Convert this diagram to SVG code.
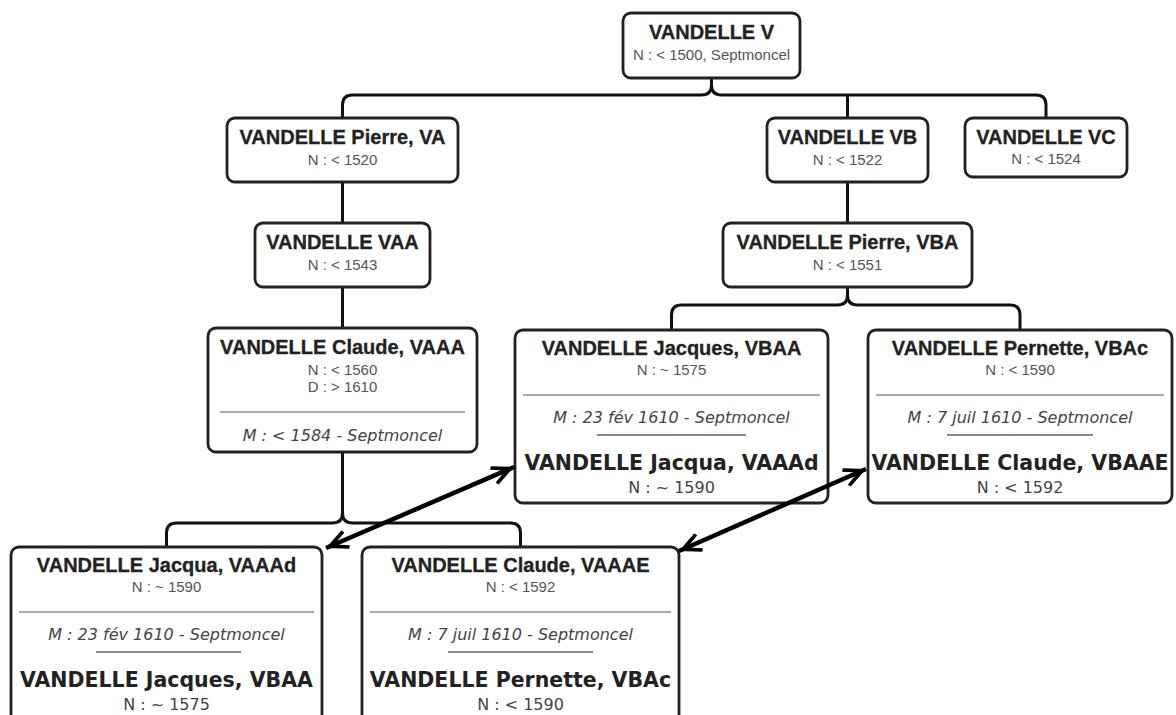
<svg xmlns="http://www.w3.org/2000/svg" width="1176" height="715" viewBox="0 0 1176 715">
<style>
.box{fill:#fff;stroke:#222;stroke-width:2.8}
.t{font-family:"Liberation Sans",Arial,sans-serif;font-weight:bold;font-size:20px;fill:#222;text-anchor:middle;stroke:#222;stroke-width:0.3}
.s{font-family:"Liberation Sans",Arial,sans-serif;font-size:15px;fill:#555;text-anchor:middle}
.m{font-family:"DejaVu Sans",Verdana,sans-serif;font-style:italic;font-size:16px;fill:#444;text-anchor:middle}
.b{font-family:"DejaVu Sans",Verdana,sans-serif;font-weight:bold;font-size:20.5px;fill:#222;text-anchor:middle}
.n{font-family:"DejaVu Sans",Verdana,sans-serif;font-size:16px;fill:#444;text-anchor:middle}
.sep{stroke:#aaa;stroke-width:2}
.sep2{stroke:#888;stroke-width:2}
.conn{fill:none;stroke:#111;stroke-width:3}
.arr{fill:none;stroke:#000;stroke-width:4.5;marker-start:url(#ah);marker-end:url(#ah)}
</style>
<defs>
<marker id="ah" markerUnits="userSpaceOnUse" markerWidth="26" markerHeight="22" refX="23" refY="11" orient="auto-start-reverse">
<path d="M23,11 L2,1 L0,4 L14,11 L0,18 L2,21 Z" fill="#000"/>
</marker>
</defs>
<g id="connectors">
<path class="conn" d="M342.5,118 V105 Q342.5,95 352.5,95 H701.5 Q711.5,95 711.5,85 V78"/>
<path class="conn" d="M711.5,85 Q711.5,95 721.5,95 H1036 Q1046,95 1046,105 V118"/>
<path class="conn" d="M847.5,95 V118"/>
<path class="conn" d="M342.5,182 V223"/>
<path class="conn" d="M342.5,287 V328"/>
<path class="conn" d="M847.5,182 V223"/>
<path class="conn" d="M847.5,287 V295 Q847.5,305 837.5,305 H681.5 Q671.5,305 671.5,315 V330"/>
<path class="conn" d="M847.5,295 Q847.5,305 857.5,305 H1010 Q1020,305 1020,315 V330"/>
<path class="conn" d="M342.5,452 V513 Q342.5,523 332.5,523 H176.5 Q166.5,523 166.5,533 V547"/>
<path class="conn" d="M342.5,513 Q342.5,523 352.5,523 H510.5 Q520.5,523 520.5,533 V547"/>
</g>
<g id="V">
<rect class="box" x="623" y="13" width="177" height="65" rx="8"/>
<text class="t" x="711.5" y="39">VANDELLE V</text>
<text class="s" x="711.5" y="60">N : &lt; 1500, Septmoncel</text>
</g>
<g id="VA">
<rect class="box" x="227" y="118" width="231" height="64" rx="8"/>
<text class="t" x="342.5" y="144">VANDELLE Pierre, VA</text>
<text class="s" x="342.5" y="165">N : &lt; 1520</text>
</g>
<g id="VB">
<rect class="box" x="767" y="118" width="161" height="64" rx="8"/>
<text class="t" x="847.5" y="144">VANDELLE VB</text>
<text class="s" x="847.5" y="165">N : &lt; 1522</text>
</g>
<g id="VC">
<rect class="box" x="965" y="118" width="162" height="59" rx="8"/>
<text class="t" x="1046" y="144">VANDELLE VC</text>
<text class="s" x="1046" y="164">N : &lt; 1524</text>
</g>
<g id="VAA">
<rect class="box" x="255" y="223" width="175" height="64" rx="8"/>
<text class="t" x="342.5" y="249">VANDELLE VAA</text>
<text class="s" x="342.5" y="270">N : &lt; 1543</text>
</g>
<g id="VBA">
<rect class="box" x="723" y="223" width="249" height="64" rx="8"/>
<text class="t" x="847.5" y="249">VANDELLE Pierre, VBA</text>
<text class="s" x="847.5" y="270">N : &lt; 1551</text>
</g>
<g id="VAAA">
<rect class="box" x="208" y="328" width="269" height="124" rx="8"/>
<text class="t" x="342.5" y="354">VANDELLE Claude, VAAA</text>
<text class="s" x="342.5" y="375">N : &lt; 1560</text>
<text class="s" x="342.5" y="392">D : &gt; 1610</text>
<line class="sep" x1="220" y1="412" x2="465" y2="412"/>
<text class="m" x="342.5" y="441">M : &lt; 1584 - Septmoncel</text>
</g>
<g id="VBAA">
<rect class="box" x="515" y="330" width="313" height="173" rx="8"/>
<text class="t" x="671.5" y="355">VANDELLE Jacques, VBAA</text>
<text class="s" x="671.5" y="375">N : ~ 1575</text>
<line class="sep" x1="523" y1="395" x2="820" y2="395"/>
<text class="m" x="671.5" y="423">M : 23 fév 1610 - Septmoncel</text>
<line class="sep2" x1="597" y1="435" x2="746" y2="435"/>
<text class="b" x="671.5" y="470">VANDELLE Jacqua, VAAAd</text>
<text class="n" x="671.5" y="493">N : ~ 1590</text>
</g>
<g id="VBAc">
<rect class="box" x="868" y="330" width="304" height="173" rx="8"/>
<text class="t" x="1020" y="355">VANDELLE Pernette, VBAc</text>
<text class="s" x="1020" y="375">N : &lt; 1590</text>
<line class="sep" x1="876" y1="395" x2="1164" y2="395"/>
<text class="m" x="1020" y="423">M : 7 juil 1610 - Septmoncel</text>
<line class="sep2" x1="947" y1="435" x2="1093" y2="435"/>
<text class="b" x="1020" y="470">VANDELLE Claude, VBAAE</text>
<text class="n" x="1020" y="493">N : &lt; 1592</text>
</g>
<g id="VAAAd">
<rect class="box" x="11" y="547" width="311" height="190" rx="8"/>
<text class="t" x="166.5" y="572">VANDELLE Jacqua, VAAAd</text>
<text class="s" x="166.5" y="592">N : ~ 1590</text>
<line class="sep" x1="19" y1="612" x2="314" y2="612"/>
<text class="m" x="166.5" y="640">M : 23 fév 1610 - Septmoncel</text>
<line class="sep2" x1="96" y1="652" x2="241" y2="652"/>
<text class="b" x="166.5" y="687">VANDELLE Jacques, VBAA</text>
<text class="n" x="166.5" y="710">N : ~ 1575</text>
</g>
<g id="VAAAE">
<rect class="box" x="362" y="547" width="317" height="190" rx="8"/>
<text class="t" x="520.5" y="572">VANDELLE Claude, VAAAE</text>
<text class="s" x="520.5" y="592">N : &lt; 1592</text>
<line class="sep" x1="370" y1="612" x2="671" y2="612"/>
<text class="m" x="520.5" y="640">M : 7 juil 1610 - Septmoncel</text>
<line class="sep2" x1="448" y1="652" x2="593" y2="652"/>
<text class="b" x="520.5" y="687">VANDELLE Pernette, VBAc</text>
<text class="n" x="520.5" y="710">N : &lt; 1590</text>
</g>
<g id="marriage-links">
<path class="arr" d="M326,548 L514,467"/>
<path class="arr" d="M679,551 L866,469"/>
</g>
</svg>
